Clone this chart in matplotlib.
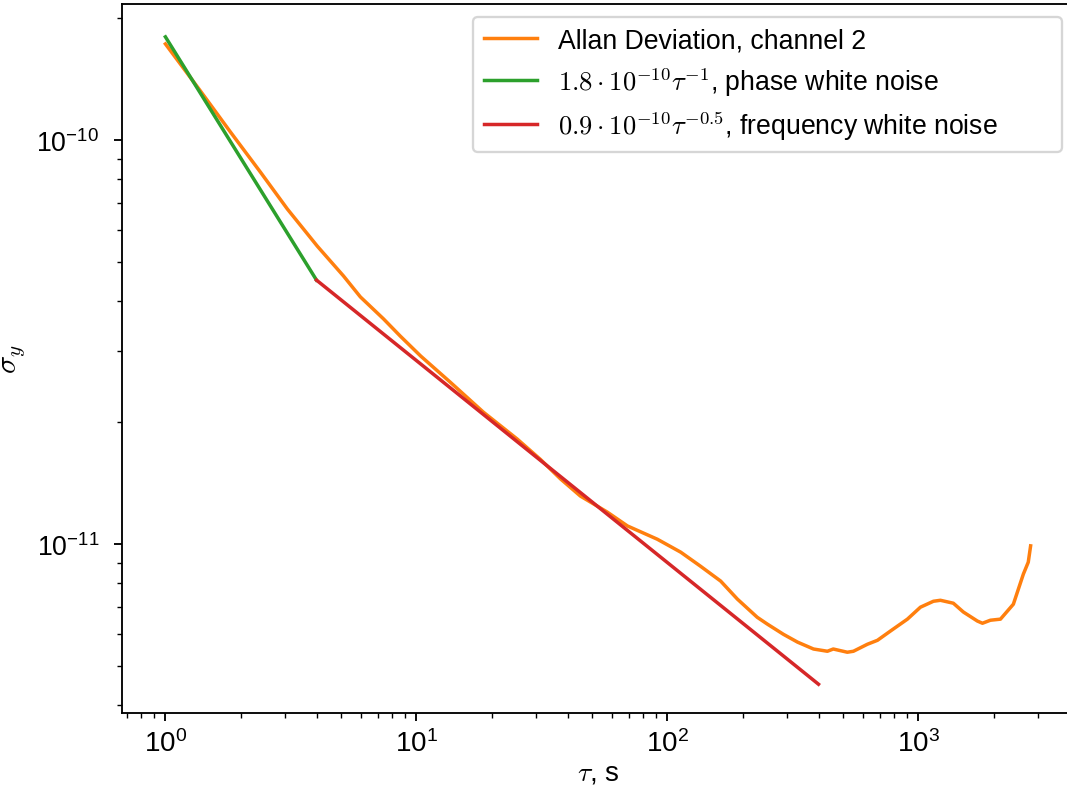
import numpy as np
from matplotlib import pyplot as plt

plt.rcParams['font.family'] = ['Liberation Sans', 'DejaVu Sans']
plt.rcParams['mathtext.fontset'] = 'cm'

# Allan deviation, channel 2
tau = [1.0, 1.379, 1.815, 2.39, 3.06, 4.03, 5.12, 5.98, 7.39, 8.63,
       10.4, 13.6, 18.5, 25.2, 31.2, 37.5, 45.0, 57.6, 69.3, 91.2,
       113, 135, 163, 190, 228, 250, 290, 330, 382, 434,
       458, 521, 551, 626, 687, 773, 904, 1019, 1148, 1224,
       1378, 1511, 1718, 1800, 1936, 2123, 2390, 2620, 2740, 2800]
adev = [1.729e-10, 1.322e-10, 1.047e-10, 8.33e-11, 6.75e-11, 5.46e-11, 4.61e-11, 4.09e-11, 3.61e-11, 3.27e-11,
        2.92e-11, 2.52e-11, 2.12e-11, 1.82e-11, 1.62e-11, 1.45e-11, 1.315e-11, 1.20e-11, 1.109e-11, 1.028e-11,
        9.55e-12, 8.83e-12, 8.10e-12, 7.31e-12, 6.59e-12, 6.34e-12, 5.98e-12, 5.72e-12, 5.50e-12, 5.43e-12,
        5.50e-12, 5.40e-12, 5.43e-12, 5.65e-12, 5.78e-12, 6.09e-12, 6.52e-12, 6.98e-12, 7.22e-12, 7.26e-12,
        7.14e-12, 6.79e-12, 6.45e-12, 6.37e-12, 6.48e-12, 6.52e-12, 7.10e-12, 8.43e-12, 9.02e-12, 9.90e-12]

# fit ranges
tau_phase = [1, 2, 3, 4]
tau_freq = [4, 10, 40, 100, 400]
k_phase = 1.8e-10
k_freq = 0.9e-10

fig = plt.figure(figsize=(6.4, 4.7325), dpi=166.71875)
fig.subplots_adjust(left=122.5 / 1067, right=1074 / 1067, bottom=1 - 714 / 789, top=1 - 5 / 789)
ax = fig.add_subplot(111)

ax.plot(tau, adev, color='C1', label='Allan Deviation, channel 2')
ax.plot(tau_phase, k_phase * np.array(tau_phase, dtype=float) ** -1, color='C2',
        label=r'$1.8\cdot10^{-10}\tau^{-1}$, phase white noise')
ax.plot(tau_freq, k_freq * np.array(tau_freq, dtype=float) ** -0.5, color='C3',
        label=r'$0.9\cdot10^{-10}\tau^{-0.5}$, frequency white noise')

ax.set_xscale('log')
ax.set_yscale('log')
ax.set_xlim(10 ** -0.171, 10 ** 3.62)
ax.set_ylim(10 ** -11.418, 10 ** -9.6634)
ax.tick_params(axis='x', labelsize=12)
ax.tick_params(axis='y', labelsize=11.5, pad=6.5)
ax.set_xlabel(r'$\tau$, s', fontsize=12, labelpad=1)
ax.set_ylabel(r'$\sigma_y$', fontsize=13, labelpad=4)

# legend frame stretched like the usetex original
ax.legend(loc='upper left', bbox_to_anchor=(0.3684, 0.9817, 0.619, 0), mode='expand',
          borderaxespad=0, fontsize=11.5, labelspacing=0.42)

fig.savefig('out.png')
